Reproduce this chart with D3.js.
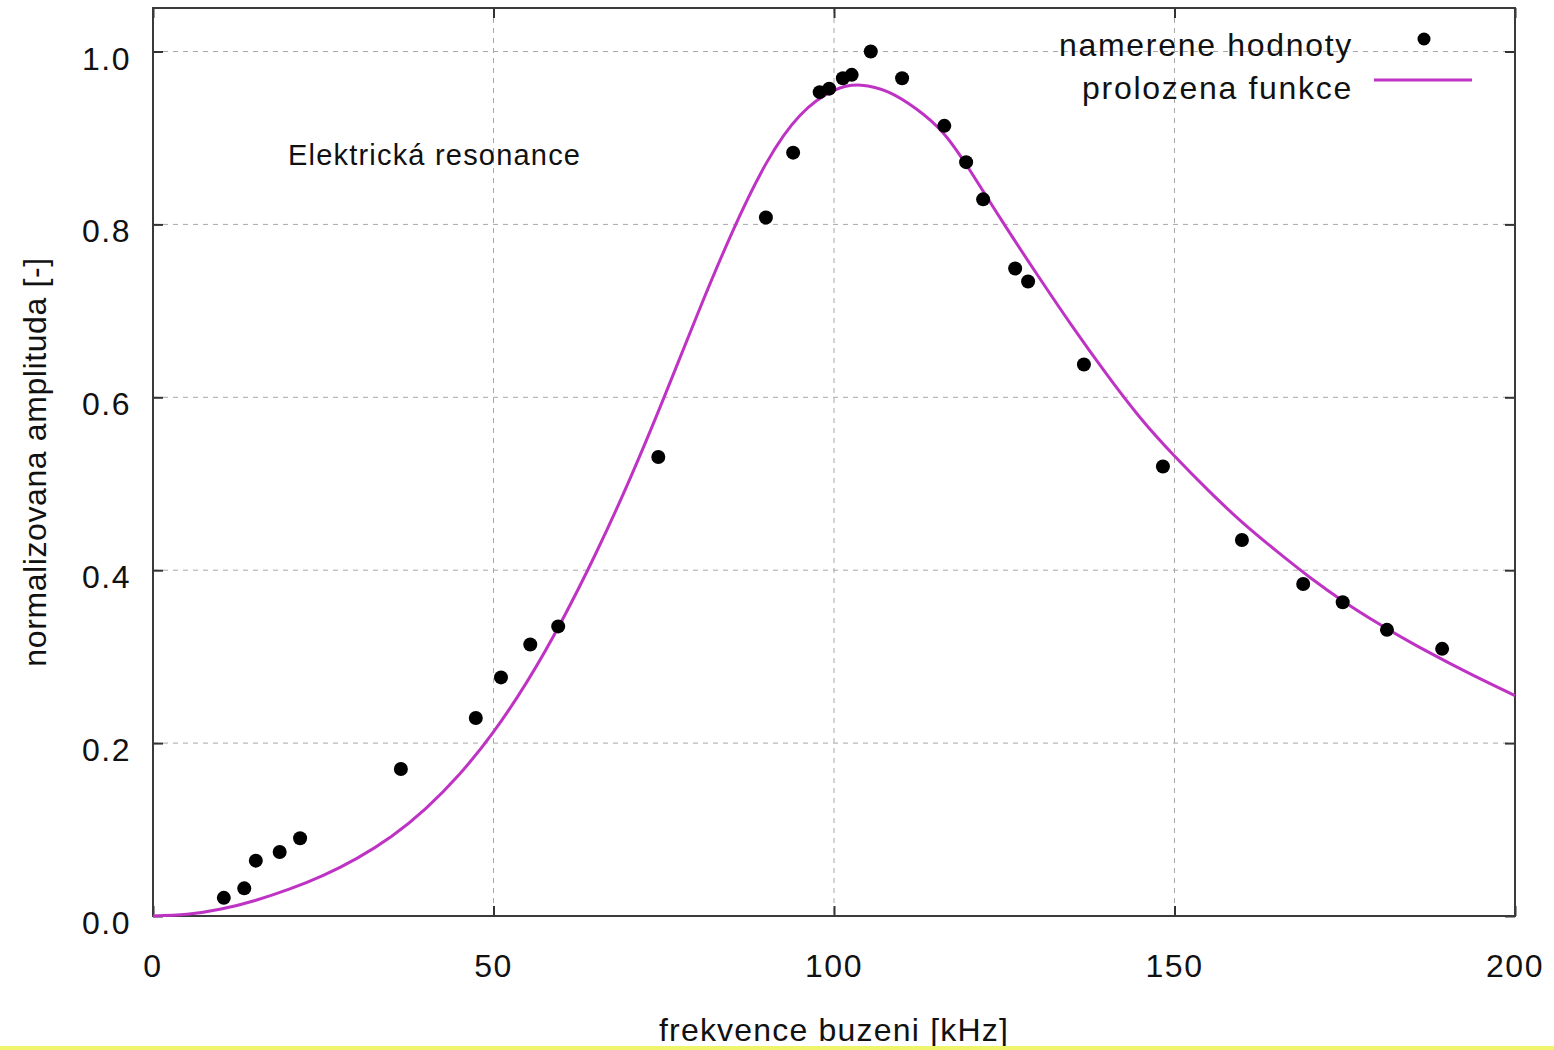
<!DOCTYPE html>
<html>
<head>
<meta charset="utf-8">
<script src="https://cdn.jsdelivr.net/npm/d3@7"></script>
<style>
  html, body { margin: 0; padding: 0; background: #fff; }
  svg { display: block; font-family: "Liberation Sans", Arial, sans-serif; }
</style>
</head>
<body>
<svg id="chart" width="1554" height="1050"></svg>
<script>
// measured points (frequency kHz, normalised amplitude)
const measFreq = [10.4, 13.4, 15.1, 18.6, 21.6, 36.4, 47.4, 51.1, 55.4, 59.5,
  74.2, 90.0, 94.0, 97.9, 99.3, 101.3, 102.6, 105.4, 110.0, 116.2,
  119.4, 121.9, 126.6, 128.5, 136.7, 148.3, 159.9, 168.9, 174.7, 181.2, 189.3]
const measAmp = [0.021, 0.032, 0.064, 0.074, 0.090, 0.170, 0.229, 0.276, 0.314, 0.335,
  0.531, 0.808, 0.883, 0.953, 0.957, 0.969, 0.973, 1.000, 0.969, 0.914,
  0.872, 0.829, 0.749, 0.734, 0.638, 0.520, 0.435, 0.384, 0.363, 0.331, 0.309]

// fitted curve
const fitFreq = [0, 5, 10, 15, 20, 25, 30, 35, 40, 45, 50, 55, 60, 65, 70, 75, 80, 85, 90, 95,
  100, 104, 108, 112, 116, 120, 125, 130, 135, 140, 145, 150, 155, 160, 165, 170,
  175, 180, 185, 190, 195, 200]
const fitAmp = [0, 0.002, 0.008, 0.018, 0.031, 0.047, 0.067, 0.092, 0.124, 0.164, 0.213, 0.272,
  0.341, 0.419, 0.505, 0.599, 0.697, 0.790, 0.870, 0.926,
  0.955, 0.961, 0.953, 0.934, 0.906, 0.862, 0.800, 0.740, 0.682, 0.627, 0.576, 0.532,
  0.492, 0.455, 0.422, 0.391, 0.363, 0.338, 0.315, 0.294, 0.274, 0.255]

const xTicks = [0, 50, 100, 150, 200]
const yTicks = [0, 0.2, 0.4, 0.6, 0.8, 1.0]

const legendLabels = ['namerene hodnoty', 'prolozena funkce']

const svg = d3.select('#chart')
const plotLeft = 153, plotRight = 1515, plotTop = 8, plotBottom = 916
const fitColor = '#bf33c4'

const x = d3.scaleLinear().domain([0, 200]).range([plotLeft, plotRight])
const y = d3.scaleLinear().domain([0, 1.0]).range([plotBottom, 51.5])

// grid
svg.append('g').selectAll('line')
  .data(xTicks.filter((d) => d > 0 && d < 200))
  .enter().append('line')
  .attr('x1', (d) => x(d)).attr('x2', (d) => x(d))
  .attr('y1', plotTop).attr('y2', plotBottom)
  .attr('stroke', '#a8a8a8').attr('stroke-width', 1).attr('stroke-dasharray', '5,5')

svg.append('g').selectAll('line')
  .data(yTicks.filter((d) => d > 0))
  .enter().append('line')
  .attr('x1', plotLeft).attr('x2', plotRight)
  .attr('y1', (d) => y(d)).attr('y2', (d) => y(d))
  .attr('stroke', '#a8a8a8').attr('stroke-width', 1).attr('stroke-dasharray', '5,5')

// axes with inward ticks, mirrored on the opposite sides
const tickLen = 10
svg.append('g').attr('transform', `translate(0,${plotBottom})`)
  .call(d3.axisBottom(x).tickValues(xTicks).tickSize(-tickLen).tickFormat(''))
svg.append('g').attr('transform', `translate(0,${plotTop})`)
  .call(d3.axisTop(x).tickValues(xTicks).tickSize(-tickLen).tickFormat(''))
svg.append('g').attr('transform', `translate(${plotLeft},0)`)
  .call(d3.axisLeft(y).tickValues(yTicks).tickSize(-tickLen).tickFormat(''))
svg.append('g').attr('transform', `translate(${plotRight},0)`)
  .call(d3.axisRight(y).tickValues(yTicks).tickSize(-tickLen).tickFormat(''))
svg.selectAll('.domain').remove()
svg.selectAll('.tick line').attr('stroke', '#333').attr('stroke-width', 2)

// frame
svg.append('rect')
  .attr('x', plotLeft).attr('y', plotTop)
  .attr('width', plotRight - plotLeft).attr('height', plotBottom - plotTop)
  .attr('fill', 'none').attr('stroke', '#3a3a3a').attr('stroke-width', 2)

// tick labels
svg.append('g').selectAll('text')
  .data(xTicks).enter().append('text')
  .attr('x', (d) => x(d)).attr('y', 977)
  .attr('text-anchor', 'middle')
  .attr('font-size', 32).attr('letter-spacing', 1.5).attr('fill', '#111')
  .text((d) => d)

svg.append('g').selectAll('text')
  .data(yTicks).enter().append('text')
  .attr('x', 131).attr('y', (d) => y(d) + 18)
  .attr('text-anchor', 'end')
  .attr('font-size', 32).attr('letter-spacing', 1.5).attr('fill', '#111')
  .text((d) => d.toFixed(1))

// axis titles
svg.append('text')
  .attr('x', x(100)).attr('y', 1041)
  .attr('text-anchor', 'middle')
  .attr('font-size', 32).attr('letter-spacing', 1.2).attr('fill', '#111')
  .text('frekvence buzeni [kHz]')

svg.append('text')
  .attr('transform', `translate(46,${(plotBottom + plotTop) / 2}) rotate(-90)`)
  .attr('text-anchor', 'middle')
  .attr('font-size', 32).attr('letter-spacing', 0.6).attr('fill', '#111')
  .text('normalizovana amplituda [-]')

// annotation
svg.append('text')
  .attr('x', 288).attr('y', 165)
  .attr('font-size', 29).attr('letter-spacing', 1.2).attr('fill', '#111')
  .text('Elektrická resonance')

// fitted curve
const fitData = fitFreq.map((f, i) => ({x: f, y: fitAmp[i]}))
svg.append('path')
  .datum(fitData)
  .attr('d', d3.line().x((d) => x(d.x)).y((d) => y(d.y)).curve(d3.curveNatural))
  .attr('fill', 'none').attr('stroke', fitColor).attr('stroke-width', 3)

// measured dots
const measData = measFreq.map((f, i) => ({x: f, y: measAmp[i]}))
svg.append('g').selectAll('circle')
  .data(measData).enter().append('circle')
  .attr('cx', (d) => x(d.x)).attr('cy', (d) => y(d.y))
  .attr('r', 7).attr('fill', '#000')

// legend
const legend = svg.append('g')
legend.append('text')
  .attr('x', 1353).attr('y', 56)
  .attr('text-anchor', 'end').attr('font-size', 32).attr('letter-spacing', 1.7).attr('fill', '#111')
  .text(legendLabels[0])
legend.append('text')
  .attr('x', 1353).attr('y', 99)
  .attr('text-anchor', 'end').attr('font-size', 32).attr('letter-spacing', 1.7).attr('fill', '#111')
  .text(legendLabels[1])
legend.append('circle')
  .attr('cx', 1424).attr('cy', 39).attr('r', 6.5).attr('fill', '#000')
legend.append('line')
  .attr('x1', 1374).attr('x2', 1472).attr('y1', 80).attr('y2', 80)
  .attr('stroke', fitColor).attr('stroke-width', 3)

// yellow strip along the bottom edge of the original image
svg.append('rect')
  .attr('x', 0).attr('y', 1046).attr('width', 1554).attr('height', 4)
  .attr('fill', '#eef56a')
</script>
</body>
</html>
